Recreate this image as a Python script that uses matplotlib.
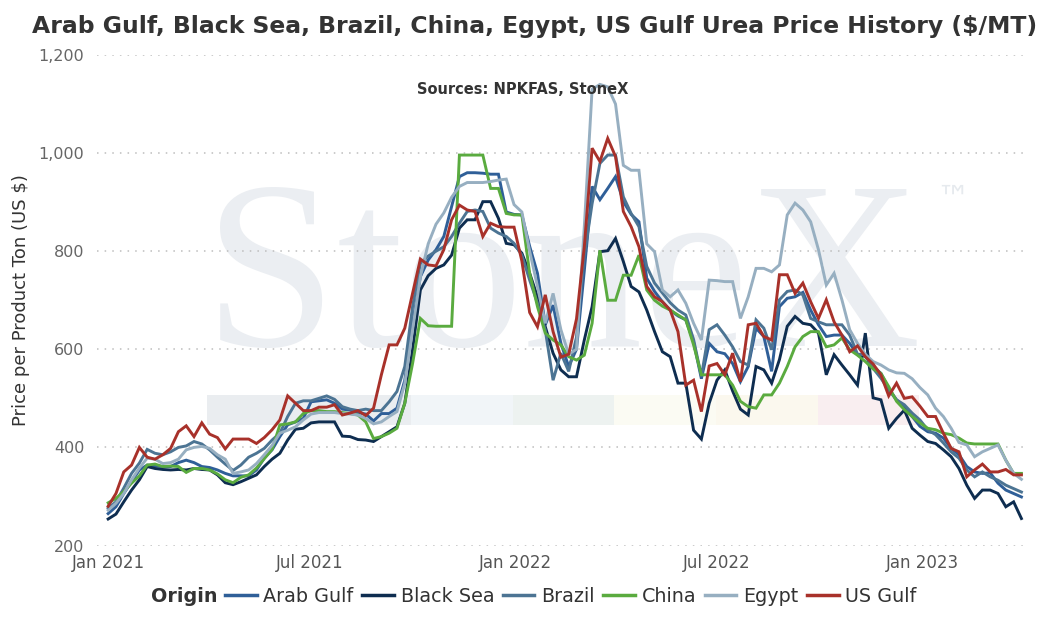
import matplotlib
matplotlib.use("Agg")
import matplotlib.pyplot as plt
import pandas as pd
from matplotlib.patches import Rectangle
from matplotlib.lines import Line2D

# ---------------- data (weekly, starting 2021-01-01) ----------------
dates = pd.date_range("2021-01-01", periods=118, freq="7D")

arab_gulf = [265, 279, 306, 330, 354, 364, 362, 361, 361, 369, 374, 369, 361, 359, 354, 347, 342, 342, 342, 354, 378, 395,
             422, 446, 452, 459, 493, 495, 497, 490, 478, 476, 471, 468, 454, 469, 469, 480, 537, 653, 748, 782,
             803, 830, 891, 952, 960, 960, 959, 957, 957, 880, 875, 874, 810, 755, 650, 690, 612, 565,
             600, 760, 932, 905, 928, 952, 901, 875, 860, 745, 718, 697, 680, 668, 660, 615, 540, 612, 595,
             591, 571, 534, 565, 643, 626, 555, 687, 704, 707, 716, 680, 650, 626, 629, 629, 612,
             589, 585, 565, 551, 520, 497, 483, 463, 443, 432, 429, 419, 398, 385, 361, 350, 347, 348, 327, 313, 306, 299]

black_sea = [254, 264, 289, 313, 334, 361, 357, 355, 354, 355, 354, 357, 355, 354, 344, 328, 324, 330, 337, 344, 361, 376,
             388, 415, 437, 439, 450, 452, 452, 452, 423, 422, 416, 415, 412, 422, 432, 442, 490, 599, 721, 750,
             765, 772, 792, 847, 864, 864, 901, 901, 867, 816, 813, 796, 755, 707, 646, 592, 558, 544,
             544, 619, 687, 799, 801, 826, 779, 728, 717, 680, 636, 595, 585, 531, 531, 435, 417, 490, 537,
             558, 515, 478, 466, 565, 558, 531, 579, 647, 667, 653, 650, 633, 548, 589, 568, 548,
             527, 633, 501, 497, 439, 459, 476, 439, 425, 412, 408, 395, 381, 357, 323, 296, 313, 313, 306, 279, 289, 255]

brazil = [276, 289, 317, 347, 368, 396, 388, 385, 391, 400, 403, 412, 407, 395, 380, 366, 353, 364, 380, 388, 398, 415,
          429, 463, 490, 495, 495, 500, 505, 498, 483, 478, 475, 478, 475, 475, 493, 514, 565, 687, 775, 790,
          800, 809, 830, 857, 881, 884, 881, 847, 837, 830, 816, 792, 741, 694, 639, 537, 592, 555,
          625, 790, 897, 979, 996, 996, 911, 877, 850, 769, 735, 715, 695, 680, 670, 620, 545, 640, 650,
          629, 605, 575, 568, 660, 643, 599, 701, 718, 721, 711, 663, 656, 650, 650, 650, 629,
          590, 589, 561, 541, 517, 497, 487, 470, 456, 436, 426, 409, 391, 378, 354, 340, 350, 340, 333, 323, 316, 309]

china = [287, 296, 310, 327, 342, 364, 366, 361, 362, 361, 349, 357, 357, 354, 346, 334, 328, 339, 344, 358, 377, 396,
         446, 448, 452, 469, 475, 475, 473, 473, 471, 469, 466, 452, 418, 422, 429, 439, 490, 571, 663, 648,
         647, 647, 647, 996, 996, 996, 996, 928, 928, 877, 874, 874, 755, 687, 633, 619, 609, 585,
         578, 588, 653, 802, 700, 700, 751, 751, 792, 721, 700, 688, 680, 670, 660, 609, 548, 548, 548,
         548, 527, 494, 483, 480, 507, 507, 531, 565, 605, 626, 636, 636, 605, 609, 623, 599,
         588, 575, 560, 551, 524, 494, 477, 463, 450, 439, 436, 429, 426, 419, 409, 407, 407, 407, 407, 374, 347, 347]

egypt = [272, 286, 306, 334, 358, 378, 376, 367, 369, 376, 395, 400, 402, 398, 385, 376, 347, 350, 354, 367, 385, 404,
         429, 435, 442, 456, 468, 471, 471, 471, 469, 468, 466, 459, 448, 452, 463, 473, 530, 640, 748, 815,
         855, 878, 910, 932, 940, 940, 940, 942, 945, 947, 895, 880, 800, 728, 653, 714, 640, 590,
         600, 850, 1130, 1140, 1135, 1100, 975, 965, 965, 815, 799, 721, 707, 721, 694, 653, 619, 741, 740,
         738, 738, 663, 707, 765, 765, 758, 772, 874, 898, 884, 860, 803, 731, 755, 701, 640,
         612, 590, 575, 568, 558, 552, 551, 540, 522, 507, 480, 463, 439, 410, 405, 381, 391, 398, 405, 374, 347, 335]

us_gulf = [280, 306, 350, 364, 400, 380, 376, 385, 398, 432, 444, 422, 450, 427, 420, 397, 417, 417, 417, 408, 420, 436,
           456, 505, 490, 475, 475, 482, 482, 487, 466, 470, 475, 465, 480, 548, 609, 609, 643, 714, 784, 772,
           770, 803, 864, 894, 884, 881, 830, 857, 850, 849, 849, 780, 675, 646, 711, 636, 584, 590,
           662, 809, 1010, 983, 1030, 993, 881, 850, 809, 728, 707, 697, 680, 636, 527, 537, 473, 566, 571,
           548, 592, 534, 650, 653, 626, 619, 752, 752, 714, 735, 697, 663, 701, 656, 629, 595,
           607, 585, 570, 548, 505, 531, 500, 503, 484, 463, 463, 429, 398, 391, 340, 354, 366, 350, 350, 355, 344, 344]

series_names = ["Arab Gulf", "Black Sea", "Brazil", "China", "Egypt", "US Gulf"]
series_values = [arab_gulf, black_sea, brazil, china, egypt, us_gulf]
series_colors = ["#2f5f98", "#0e2d50", "#4c7493", "#5aab3f", "#97afc1", "#a8312a"]

y_ticks = [200, 400, 600, 800, 1000, 1200]
y_tick_labels = ["200", "400", "600", "800", "1,000", "1,200"]
x_tick_dates = ["2021-01-01", "2021-07-01", "2022-01-01", "2022-07-01", "2023-01-01"]
x_tick_labels = ["Jan 2021", "Jul 2021", "Jan 2022", "Jul 2022", "Jan 2023"]

title = "Arab Gulf, Black Sea, Brazil, China, Egypt, US Gulf Urea Price History ($/MT)"
subtitle = "Sources: NPKFAS, StoneX"
y_label = "Price per Product Ton (US $)"

# ---------------- figure ----------------
W, H = 1054, 636
def fx(px):
    return px / W
def fy(py):
    return 1 - py / H

plt.rcParams["font.family"] = ["DejaVu Sans"]
fig = plt.figure(figsize=(W / 100, H / 100), dpi=100)
ax = fig.add_axes([fx(97), fy(545.5), (1027 - 97) / W, (545.5 - 55) / H])

# watermark logo band + text (background)
band_edges = [207, 309, 411, 513, 614, 716, 818, 919]
band_colors = ["#eaedf0", "#eaedf0", "#f1f5f8", "#edf2f0", "#fbfbf3", "#fbf8ee", "#f9eef0"]
for k, c in enumerate(band_colors):
    ax.add_patch(Rectangle((fx(band_edges[k]), fy(425)), (band_edges[k + 1] - band_edges[k]) / W, 30 / H,
                           transform=fig.transFigure, facecolor=c, edgecolor="none",
                           zorder=0.3, clip_on=False))
ax.text(fx(563), fy(346), "StoneX", transform=fig.transFigure, ha="center", va="baseline",
        fontsize=172, family="Liberation Serif", color="#ebeef2", zorder=0.35)
ax.text(fx(953), fy(199), "™", transform=fig.transFigure, ha="center", va="center",
        fontsize=24, color="#e6eaee", zorder=0.35)

for name, vals, col in zip(series_names, series_values, series_colors):
    ax.plot(dates, vals, color=col, lw=2.1, label=name, zorder=3, solid_joinstyle="miter")

ax.set_ylim(200, 1200)
ax.set_xlim(pd.Timestamp("2020-12-22"), pd.Timestamp("2023-04-05"))
ax.set_yticks(y_ticks)
ax.set_yticklabels(y_tick_labels)
ax.set_xticks([pd.Timestamp(d) for d in x_tick_dates])
ax.set_xticklabels(x_tick_labels)
ax.tick_params(axis="y", length=0, pad=9, labelsize=11.5, labelcolor="#666666")
ax.tick_params(axis="x", length=0, pad=6, labelsize=12, labelcolor="#555555")
ax.grid(axis="y", color="#bdbdbd", linestyle=(0, (1, 4)), linewidth=1.1)
ax.grid(axis="x", visible=False)
ax.set_axisbelow(True)
for s in ax.spines.values():
    s.set_visible(False)
ax.patch.set_alpha(0)

fig.text(fx(535), fy(27), title, ha="center", va="center", fontsize=16.9,
         fontweight="bold", color="#333333")
fig.text(fx(523), fy(89), subtitle, ha="center", va="center", fontsize=10.5,
         fontweight="bold", color="#333333")
fig.text(fx(21), fy(300), y_label, ha="center", va="center", rotation=90,
         fontsize=13, color="#333333")

handles = [Line2D([], [], color=c, lw=2.5) for c in series_colors]
fig.legend(handles, series_names, loc="center left", bbox_to_anchor=(fx(225), fy(596)),
           ncol=6, frameon=False, fontsize=13.8, handlelength=1.65, handletextpad=0.35,
           columnspacing=0.45, borderaxespad=0, borderpad=0, labelcolor="#333333")
fig.text(fx(218), fy(596), "Origin", ha="right", va="center", fontsize=13.8,
         fontweight="bold", color="#333333")

fig.savefig("out.png", dpi=100)
